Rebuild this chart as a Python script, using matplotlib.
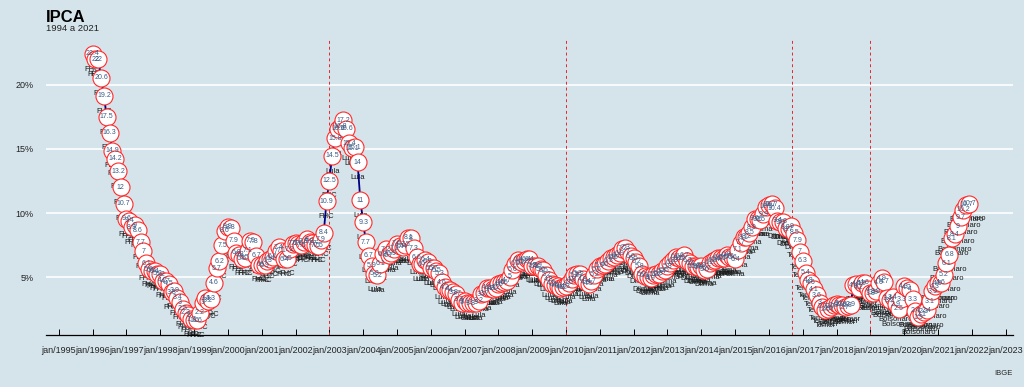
import numpy as np
import matplotlib
matplotlib.use('Agg')
import matplotlib.pyplot as plt

plt.rcParams['font.family'] = ['Liberation Sans', 'DejaVu Sans']

# IPCA accumulated over 12 months (%), monthly from Dec/1995 to Nov/2021
start_year, start_month = 1995, 12
ipca = [22.41,
        21.98, 21.99, 20.55, 19.15, 17.50, 16.27, 14.87, 14.24, 13.25, 12.01, 10.74, 9.56,   # 1996
        9.39, 8.88, 9.05, 8.65, 7.73, 7.04, 6.11, 5.62, 5.52, 5.45, 5.29, 5.22,              # 1997
        4.73, 4.69, 4.51, 3.85, 3.94, 3.40, 3.05, 2.54, 2.25, 2.04, 1.74, 1.65,              # 1998
        1.64, 2.24, 3.02, 3.35, 3.15, 3.32, 4.57, 5.69, 6.25, 7.51, 8.64, 8.94,              # 1999
        8.85, 7.86, 6.92, 6.77, 6.46, 6.51, 7.06, 7.86, 7.77, 6.66, 5.99, 5.97,              # 2000
        5.92, 6.27, 6.44, 6.61, 7.04, 7.35, 7.06, 6.41, 6.46, 7.20, 7.61, 7.67,              # 2001
        7.62, 7.51, 7.75, 7.98, 7.77, 7.66, 7.51, 7.46, 7.93, 8.45, 10.93, 12.53,            # 2002
        14.47, 15.85, 16.57, 16.77, 17.24, 16.57, 15.43, 15.07, 15.14, 13.98, 11.02, 9.30,   # 2003
        7.71, 6.69, 5.89, 5.26, 5.15, 6.06, 6.81, 7.18, 6.71, 6.86, 7.24, 7.60,              # 2004
        7.41, 7.39, 7.54, 8.07, 8.05, 7.27, 6.57, 6.02, 6.04, 6.36, 6.22, 5.69,              # 2005
        5.70, 5.51, 5.32, 4.63, 4.23, 4.03, 3.97, 3.84, 3.70, 3.26, 3.02, 3.14,              # 2006
        2.99, 3.02, 2.96, 3.00, 3.18, 3.69, 3.74, 4.18, 4.15, 4.12, 4.19, 4.46,              # 2007
        4.56, 4.61, 4.73, 5.04, 5.58, 6.06, 6.37, 6.17, 6.25, 6.41, 6.39, 5.90,              # 2008
        5.84, 5.90, 5.61, 5.53, 5.20, 4.80, 4.50, 4.36, 4.34, 4.17, 4.22, 4.31,              # 2009
        4.59, 4.83, 5.17, 5.26, 5.22, 4.84, 4.60, 4.49, 4.70, 5.20, 5.63, 5.91,              # 2010
        5.99, 6.01, 6.30, 6.51, 6.55, 6.71, 6.87, 7.23, 7.31, 6.97, 6.64, 6.50,              # 2011
        6.22, 5.85, 5.24, 5.10, 4.99, 4.92, 5.20, 5.24, 5.28, 5.45, 5.53, 5.84,              # 2012
        6.15, 6.31, 6.59, 6.49, 6.50, 6.70, 6.27, 6.09, 5.86, 5.84, 5.77, 5.91,              # 2013
        5.59, 5.68, 6.15, 6.28, 6.37, 6.52, 6.50, 6.51, 6.75, 6.59, 6.56, 6.41,              # 2014
        7.14, 7.70, 8.13, 8.17, 8.47, 8.89, 9.56, 9.53, 9.49, 9.93, 10.48, 10.67,            # 2015
        10.71, 10.36, 9.39, 9.28, 9.32, 8.84, 8.74, 8.97, 8.48, 7.87, 6.99, 6.29,            # 2016
        5.35, 4.76, 4.57, 4.08, 3.60, 3.00, 2.71, 2.46, 2.54, 2.70, 2.80, 2.95,              # 2017
        2.86, 2.84, 2.68, 2.76, 2.86, 4.39, 4.48, 4.19, 4.53, 4.56, 4.05, 3.75,              # 2018
        3.78, 3.89, 4.58, 4.94, 4.66, 3.37, 3.22, 3.43, 2.89, 2.54, 3.27, 4.31,              # 2019
        4.19, 4.01, 3.30, 2.40, 1.88, 2.13, 2.31, 2.44, 3.14, 3.92, 4.31, 4.52,              # 2020
        4.56, 5.20, 6.10, 6.76, 8.06, 8.35, 8.99, 9.68, 10.25, 10.67, 10.74]                # 2021

presidents = ['FHC', 'Lula', 'Dilma', 'Temer', 'Bolsonaro']
term_start = [1995.0, 2003.0, 2011.0, 2016.67, 2019.0]
marks = [2003.0, 2010.0, 2016.67, 2019.0]
tick_years = list(range(1995, 2024))

# x position of each month (end of month, as in the reference)
x = np.array([start_year + (start_month + i) / 12 for i in range(len(ipca))])
y = np.array(ipca)
who = [presidents[np.searchsorted(term_start, xi - 1/12, side='right') - 1] for xi in x]

bg = '#d5e4eb'
fig = plt.figure(figsize=(10.24, 3.87), dpi=100, facecolor=bg)
ax = fig.add_axes([0.0449, 0.1344, 0.9444, 0.7674], facecolor=bg)

for xi, yi, name in zip(x, y, who):
    ax.annotate(name, (xi, yi), xytext=(0, -11), textcoords='offset points',
                ha='center', va='center', fontsize=5.5, color='#1a1a1a', zorder=2)

ax.plot(x, y, color='#000080', lw=1.3, zorder=3)
ax.scatter(x, y, s=150, facecolor='white', edgecolor='#ff2a2a', linewidth=0.8, zorder=4)
for xi, yi in zip(x, y):
    ax.text(xi, yi, f'{round(yi, 1):g}', ha='center', va='center',
            fontsize=5, color='#3b5b85', zorder=5)

for m in marks:
    ax.axvline(m, color='#e8242a', lw=0.7, ls=(0, (3, 3)), zorder=1)

ax.set_xlim(1994.62, 2023.22)
ax.set_ylim(0.5, 23.65)
ax.set_yticks([5, 10, 15, 20])
ax.set_yticklabels(['5%', '10%', '15%', '20%'])
ax.set_xticks(tick_years)
ax.set_xticklabels([f'jan/{t}' for t in tick_years])
ax.yaxis.grid(True, color='white', lw=1.2, zorder=0)
ax.set_axisbelow(True)

for s in ['top', 'right', 'left']:
    ax.spines[s].set_visible(False)
ax.spines['bottom'].set_color('black')
ax.spines['bottom'].set_linewidth(0.9)
ax.tick_params(axis='x', direction='in', length=4, width=0.7, labelsize=6.5,
               labelcolor='#222222', pad=8)
ax.tick_params(axis='y', length=0, labelsize=6.5, labelcolor='#222222', pad=9)

fig.text(0.0449, 0.955, 'IPCA', fontsize=12, fontweight='bold', ha='left', va='center')
fig.text(0.0449, 0.926, '1994 a 2021', fontsize=6.8, ha='left', va='center', color='#222222')
fig.text(0.9893, 0.035, 'IBGE', fontsize=5.5, ha='right', va='center', color='#222222')

fig.savefig('out.png', dpi=100, facecolor=bg)
